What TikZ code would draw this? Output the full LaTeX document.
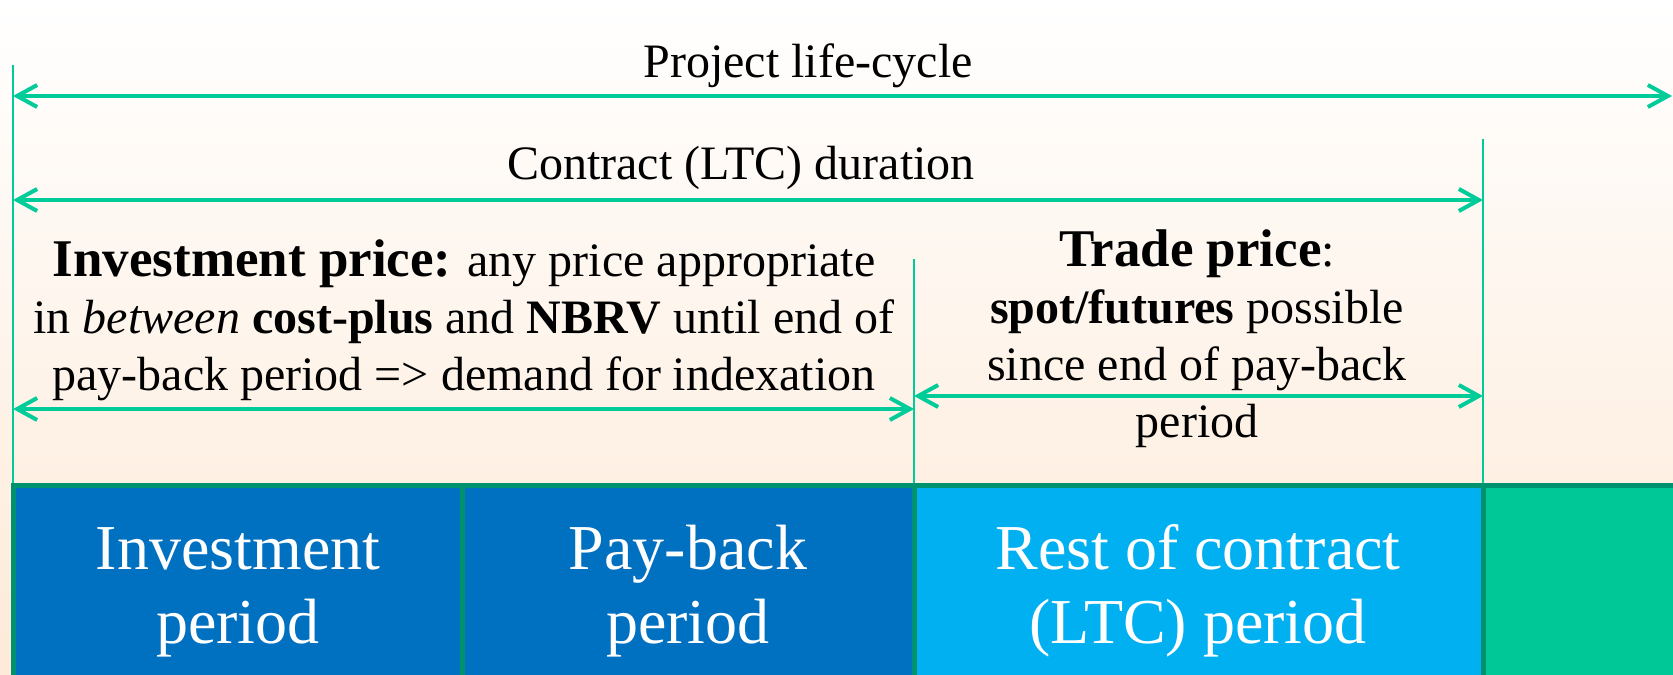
\documentclass[tikz,border=0pt]{standalone}
\usepackage{fontspec}
\setmainfont{Liberation Serif}
\usetikzlibrary{arrows.meta}
\definecolor{arr}{RGB}{0,204,153}
\definecolor{bord}{RGB}{0,146,110}
\definecolor{dblue}{RGB}{0,112,192}
\definecolor{lblue}{RGB}{0,176,240}
\definecolor{greenbox}{RGB}{0,200,150}
\definecolor{peach}{RGB}{253,234,216}
\begin{document}
\begin{tikzpicture}[x=0.5pt,y=-0.5pt,
  barb/.tip={Straight Barb[length=10pt,width=11pt,line width=2pt]},
  dim/.style={draw=arr, line width=2pt, barb-barb},
  guide/.style={draw=arr, line width=1pt},
  lbl/.style={font=\fontsize{24}{28.5}\selectfont, align=center, inner sep=0pt, anchor=base},
  periodbox/.style={draw=bord, line width=2.5pt},
  periodtxt/.style={text=white, font=\fontsize{32}{37}\selectfont, align=center, inner sep=0pt, anchor=base}]
\useasboundingbox (0,0) rectangle (1673,674);
\shade[top color=white, bottom color=peach] (0,0) rectangle (1673,674);

% guide lines
\coordinate (lt) at (13,65);
\coordinate (lb) at (13,485);
\coordinate (mt) at (914,259);
\coordinate (mb) at (914,485);
\coordinate (rt) at (1483,139);
\coordinate (rb) at (1483,485);
\coordinate (end) at (1672,96);
\draw[guide] (lt) -- (lb);
\draw[guide] (mt) -- (mb);
\draw[guide] (rt) -- (rb);

% dimension arrows
\draw[dim] (lt |- end) -- (end);
\draw[dim] (13,200) coordinate (c1) -- (c1 -| rt);
\draw[dim] (13,409) coordinate (i1) -- (i1 -| mt);
\draw[dim] (914,396) coordinate (t1) -- (t1 -| rt);

% labels (anchor = baseline of last line)
\node[lbl] (life) at (808,77) {Project life-cycle};
\node[lbl] (contract) at (741,179) {Contract (LTC) duration};
\node[lbl] (invprice) at (464,390) {{\fontsize{26.5}{28.5}\selectfont\bfseries Investment price:} any price appropriate\\
  in \textit{between} \textbf{cost-plus} and \textbf{NBRV} until end of\\
  pay-back period => demand for indexation};
\node[lbl] (tradeprice) at (1197,437) {{\fontsize{26.5}{28.5}\selectfont\bfseries Trade price}:\\
  \textbf{spot/futures} possible\\
  since end of pay-back\\
  period};

% period boxes
\filldraw[periodbox, fill=dblue] (13,485) rectangle (462,690);
\filldraw[periodbox, fill=dblue] (462,485) rectangle (914,690);
\filldraw[periodbox, fill=lblue] (914,485) rectangle (1483,690);
\filldraw[periodbox, fill=greenbox] (1483,485) rectangle (1690,690);
\node[periodtxt] (inv) at (238,643) {Investment\\period};
\node[periodtxt] (pay) at (688,643) {Pay-back\\period};
\node[periodtxt] (rest) at (1198,643) {Rest of contract\\(LTC) period};
\end{tikzpicture}
\end{document}
